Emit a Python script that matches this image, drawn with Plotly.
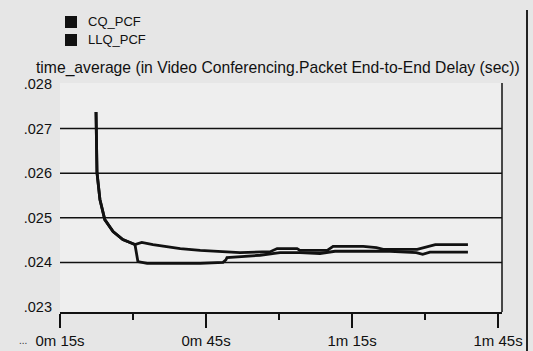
import plotly.graph_objects as go

# ---- data ----
series_names = ["CQ_PCF", "LLQ_PCF"]

cq_t = [22.4, 22.5, 22.6, 23.2, 24.2, 25.9, 27.9, 30.0, 30.4, 31.8, 34.1, 39.7, 43.8,
        52.0, 58.2, 59.6, 63.7, 64.3, 69.9, 71.1, 77.3, 80.0, 81.4, 88.4, 90.0, 92.1, 98.8]
cq_v = [0.02737, 0.02675, 0.02601, 0.02541, 0.02496, 0.02469, 0.02451, 0.02442, 0.02440,
        0.02445, 0.02440, 0.02431, 0.02427, 0.02422, 0.02424, 0.02431, 0.02431, 0.02427,
        0.02427, 0.02436, 0.02436, 0.02433, 0.02429, 0.02429, 0.02434, 0.02440, 0.02440]

llq_t = [22.4, 22.5, 22.6, 23.2, 24.2, 25.9, 27.9, 30.0, 30.4, 31.0, 32.9, 39.7, 43.8,
         48.5, 49.1, 49.3, 52.0, 56.1, 60.2, 64.3, 68.4, 71.5, 82.8, 88.2, 89.5, 91.0, 98.8]
llq_v = [0.02737, 0.02675, 0.02601, 0.02541, 0.02496, 0.02469, 0.02451, 0.02442, 0.02440,
         0.02402, 0.02398, 0.02398, 0.02398, 0.02400, 0.02406, 0.02411, 0.02413, 0.02416,
         0.02422, 0.02422, 0.02420, 0.02425, 0.02425, 0.02422, 0.02418, 0.02423, 0.02423]

x_major_vals = [15, 45, 75, 105]
x_major_text = ["0m 15s", "0m 45s", "1m 15s", "1m 45s"]
x_minor_vals = [30, 60, 90]

y_tick_vals = [0.023, 0.024, 0.025, 0.026, 0.027, 0.028]
y_tick_text = [".023", ".024", ".025", ".026", ".027", ".028"]
grid_levels = [0.024, 0.025, 0.026, 0.027]

title_text = "time_average (in Video Conferencing.Packet End-to-End Delay (sec))"

# ---- figure ----
W, H = 533, 351
L, R, T, B = 60, 31, 83, 39
pw, ph = W - L - R, H - T - B

def px(xp):
    return (xp - L) / pw

def py(yp):
    return (H - B - yp) / ph

font = "Arial, Liberation Sans, sans-serif"

fig = go.Figure()
for name, t, v in [(series_names[0], cq_t, cq_v), (series_names[1], llq_t, llq_v)]:
    fig.add_trace(go.Scatter(x=t, y=v, mode="lines", name=name,
                             line=dict(color="#111111", width=2.8, shape="linear"),
                             showlegend=False))

shapes = []
for g in grid_levels:
    shapes.append(dict(type="line", xref="paper", yref="y", x0=0, x1=1, y0=g, y1=g,
                       line=dict(color="#111111", width=1.5), layer="below"))
# right border of plot
shapes.append(dict(type="line", xref="paper", yref="paper", x0=1, x1=1, y0=0, y1=1,
                   line=dict(color="#111111", width=1.5)))
# window right edge
shapes.append(dict(type="line", xref="paper", yref="paper", x0=px(527), x1=px(527),
                   y0=py(351), y1=py(10), line=dict(color="#222222", width=2)))

annotations = []
# legend squares + text
for i, name in enumerate(series_names):
    yc = 22 + 18 * i
    shapes.append(dict(type="rect", xref="paper", yref="paper",
                       x0=px(65), x1=px(77), y0=py(yc + 6), y1=py(yc - 6),
                       fillcolor="#111111", line=dict(width=0)))
    annotations.append(dict(x=px(86), y=py(yc), xref="paper", yref="paper",
                            text=name, showarrow=False, xanchor="left", yanchor="middle",
                            font=dict(family=font, size=13, color="#111111")))

annotations.append(dict(x=px(34), y=py(68), xref="paper", yref="paper",
                        text=title_text, showarrow=False, xanchor="left", yanchor="middle",
                        font=dict(family=font, size=15.7, color="#111111")))
annotations.append(dict(x=px(23), y=py(340), xref="paper", yref="paper",
                        text="...", showarrow=False, xanchor="center", yanchor="middle",
                        font=dict(family=font, size=10, color="#333333")))

fig.update_layout(
    width=W, height=H,
    margin=dict(l=L, r=R, t=T, b=B, pad=0),
    paper_bgcolor="#e6e6e6", plot_bgcolor="#eeeeee",
    shapes=shapes, annotations=annotations,
    xaxis=dict(range=[15, 105.8], tickmode="array", tickvals=x_major_vals, ticktext=x_major_text,
               automargin=False,
               showgrid=False, zeroline=False, showline=True, linecolor="#111111", linewidth=1.5,
               ticks="outside", ticklen=14, tickwidth=1.5, tickcolor="#111111",
               tickfont=dict(family=font, size=15, color="#111111"),
               minor=dict(tickmode="array", tickvals=x_minor_vals, ticks="outside", ticklen=6,
                          tickwidth=1.5, tickcolor="#111111", showgrid=False)),
    yaxis=dict(range=[0.022888, 0.028022], tickmode="array", tickvals=y_tick_vals, ticktext=y_tick_text,
               automargin=False,
               showgrid=False, zeroline=False, showline=False, ticks="", ticklabelstandoff=7,
               tickfont=dict(family=font, size=14.5, color="#111111")),
)

fig.write_html("out.html", config={"displayModeBar": False},
               post_script="document.body.style.margin='0';document.body.style.padding='0';")
